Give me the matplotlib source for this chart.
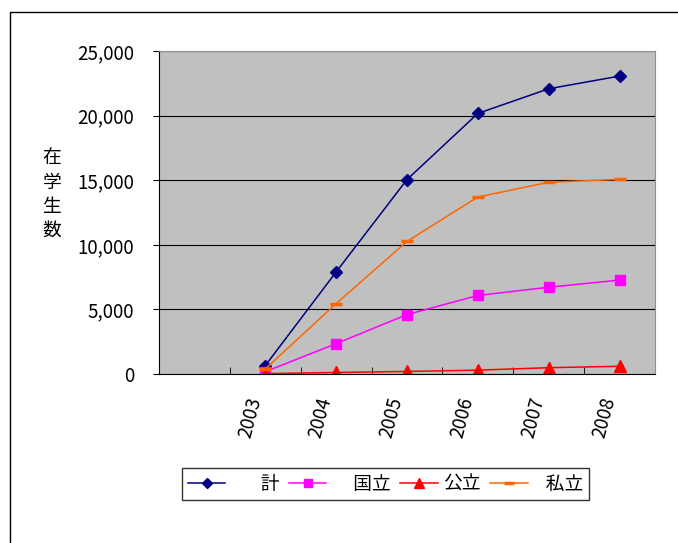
import matplotlib
matplotlib.use('Agg')
from matplotlib import pyplot as plt
from matplotlib.patches import Rectangle
from matplotlib.ticker import StrMethodFormatter
import numpy as np

plt.rcParams['font.family'] = ['Noto Sans CJK JP', 'DejaVu Sans']
plt.rcParams['font.size'] = 13.5

# 在学生数 by year (first category slot is left empty)
categories = ['', '2003', '2004', '2005', '2006', '2007', '2008']
total = [650, 7900, 15050, 20170, 22080, 23060]
national = [180, 2350, 4600, 6080, 6720, 7270]
public = [30, 120, 200, 300, 490, 600]
private = [390, 5450, 10260, 13700, 14840, 15070]

seriesNames = ['計', '国立', '公立', '私立']
# leading spaces push the legend text over like the old spreadsheet legend
legendLabels = ['       計', '     国立', '公立', '   私立']

fig = plt.figure(figsize=(6.78, 5.43), dpi=100)
ax = fig.add_axes([0.2345, 0.3112, 0.7315, 0.5948])
ax.set_facecolor('#C0C0C0')

x = np.arange(1, len(categories))

ax.plot(x, total, color='#000080', marker='D', markersize=6, linewidth=1.1, label=legendLabels[0])
ax.plot(x, national, color='#FF00FF', marker='s', markersize=7, linewidth=1.1, label=legendLabels[1])
ax.plot(x, public, color='#FF0000', marker='^', markersize=8, linewidth=1.1, label=legendLabels[2])
ax.plot(x, private, color='#FF6600', marker='_', markersize=9, markeredgewidth=2.5,
        linewidth=1.1, label=legendLabels[3])

ax.set_ylim(0, 25000)
ax.set_xlim(-0.5, len(categories) - 0.5)
ax.set_yticks(np.arange(0, 25001, 5000))
ax.yaxis.set_major_formatter(StrMethodFormatter('{x:,.0f}'))
ax.yaxis.grid(True, color='black', linewidth=0.8)
ax.set_axisbelow(True)

ax.set_xticks(range(len(categories)))
ax.set_xticklabels(categories, rotation=75, ha='right', va='top')
ax.set_xticks(np.arange(-0.5, len(categories), 1), minor=True)
ax.tick_params(axis='x', which='major', length=0, pad=15)
ax.tick_params(axis='x', which='minor', direction='in', length=5, color='black')
ax.tick_params(axis='y', direction='out', length=4, pad=14)

ax.spines['left'].set_color('black')
ax.spines['bottom'].set_color('black')
ax.spines['top'].set_color('#909090')
ax.spines['right'].set_color('#909090')

ax.set_ylabel('在\n学\n生\n数', rotation=0, va='center', ha='center', linespacing=1.2)
ax.yaxis.set_label_coords(-0.216, 0.557)

leg = fig.legend(loc='center', bbox_to_anchor=(0.569, 0.108), ncol=4, frameon=True,
                 fancybox=False, handlelength=2.0, handletextpad=0.3, columnspacing=0.5,
                 borderpad=0.3, borderaxespad=0, markerscale=0.85)
leg.get_frame().set_edgecolor('black')
leg.get_frame().set_linewidth(1.0)

# outer chart border
fig.patches.append(Rectangle((10 / 678, -0.1), 1.2, 1.1 - 12 / 543, transform=fig.transFigure,
                             fill=False, edgecolor='black', linewidth=1.0))

fig.savefig('out.png', dpi=100)
